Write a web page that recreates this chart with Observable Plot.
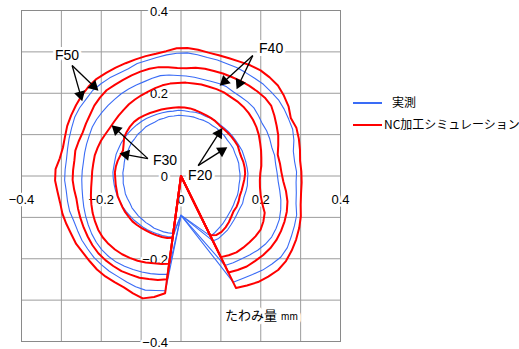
<!DOCTYPE html>
<html><head><meta charset="utf-8">
<script src="https://cdn.jsdelivr.net/npm/d3@7"></script>
<script src="https://cdn.jsdelivr.net/npm/@observablehq/plot@0.6"></script>
<style>
body{margin:0;background:#fff;}
#wrap{position:relative;width:519px;height:349px;overflow:hidden;}
.lg{position:absolute;font-family:"Noto Sans CJK JP","Liberation Sans",sans-serif;font-size:12px;line-height:14px;color:#000;white-space:nowrap;}
.sw{position:absolute;height:2px;width:29px;}
</style></head>
<body><div id="wrap"></div>
<script>
// tool rotation angle (deg) at which each deflection radius was sampled
const angles = [-63,-58,-53,-48,-43,-38,-33,-28,-23,-18,-13,
  -8,-3,2,7,12,17,22,27,32,37,42,
  47,52,57,62,67,72,77,82,87,92,97,
  102,107,112,117,122,127,132,137,142,147,152,
  157,162,167,172,177,182,187,192,197,202,207,
  212,217,222,227,232,237,242,247,252,257,262];

// deflection magnitude (mm) – NC simulation (red) and measurement (blue)
const sim50 = [0.304,0.312,0.321,0.327,0.333,0.334,0.331,0.327,0.322,0.316,0.308,
  0.304,0.303,0.302,0.301,0.305,0.309,0.312,0.309,0.318,0.323,0.327,
  0.326,0.324,0.319,0.313,0.309,0.307,0.306,0.308,0.310,0.309,0.304,
  0.302,0.303,0.304,0.306,0.309,0.312,0.316,0.317,0.316,0.314,0.312,
  0.310,0.306,0.304,0.307,0.315,0.316,0.312,0.310,0.311,0.310,0.309,
  0.310,0.308,0.308,0.309,0.308,0.306,0.305,0.308,0.311,0.300,0.286];
const meas50 = [0.288,0.292,0.298,0.306,0.312,0.318,0.318,0.313,0.309,0.305,0.296,
  0.292,0.289,0.290,0.287,0.288,0.296,0.302,0.303,0.305,0.306,0.304,
  0.303,0.300,0.298,0.297,0.295,0.295,0.294,0.296,0.298,0.297,0.295,
  0.293,0.292,0.293,0.291,0.293,0.297,0.300,0.303,0.302,0.303,0.302,
  0.298,0.295,0.292,0.290,0.291,0.292,0.290,0.291,0.292,0.290,0.291,
  0.293,0.293,0.294,0.293,0.292,0.290,0.290,0.291,0.290,0.284,0.280];
const sim40 = [0.262,0.268,0.274,0.277,0.281,0.284,0.285,0.284,0.282,0.279,0.274,
  0.266,0.257,0.252,0.250,0.248,0.255,0.263,0.269,0.276,0.283,0.283,
  0.280,0.277,0.274,0.271,0.269,0.267,0.266,0.264,0.261,0.261,0.265,
  0.269,0.271,0.272,0.273,0.274,0.276,0.279,0.278,0.276,0.272,0.270,
  0.268,0.270,0.272,0.270,0.271,0.272,0.270,0.268,0.270,0.272,0.274,
  0.276,0.278,0.279,0.278,0.276,0.274,0.270,0.267,0.262,0.258,0.252];
const meas40 = [0.243,0.247,0.251,0.257,0.263,0.268,0.271,0.270,0.268,0.263,0.257,
  0.250,0.244,0.241,0.239,0.240,0.238,0.240,0.241,0.240,0.243,0.246,
  0.245,0.243,0.242,0.244,0.243,0.241,0.240,0.241,0.242,0.243,0.246,
  0.248,0.247,0.246,0.247,0.248,0.249,0.249,0.250,0.251,0.252,0.252,
  0.250,0.249,0.248,0.247,0.248,0.249,0.250,0.252,0.255,0.258,0.261,
  0.264,0.266,0.267,0.266,0.264,0.260,0.256,0.252,0.248,0.244,0.240];
const sim30 = [0.220,0.226,0.231,0.233,0.235,0.237,0.238,0.234,0.228,0.214,0.205,
  0.200,0.198,0.199,0.203,0.206,0.210,0.214,0.219,0.223,0.226,0.228,
  0.229,0.229,0.228,0.229,0.228,0.227,0.227,0.226,0.226,0.225,0.225,
  0.224,0.222,0.220,0.219,0.218,0.217,0.215,0.214,0.213,0.213,0.215,
  0.218,0.220,0.222,0.222,0.223,0.224,0.227,0.231,0.235,0.239,0.242,
  0.245,0.246,0.245,0.243,0.240,0.236,0.232,0.227,0.222,0.218,0.214];
const meas30 = [0.176,0.178,0.176,0.175,0.172,0.170,0.168,0.167,0.168,0.166,0.167,
  0.168,0.167,0.168,0.167,0.166,0.165,0.165,0.163,0.162,0.161,0.160,
  0.159,0.158,0.159,0.158,0.157,0.158,0.158,0.157,0.158,0.159,0.158,
  0.159,0.160,0.161,0.162,0.164,0.165,0.166,0.167,0.168,0.169,0.170,
  0.170,0.171,0.170,0.170,0.171,0.170,0.169,0.168,0.167,0.165,0.164,
  0.162,0.160,0.159,0.157,0.156,0.155,0.153,0.152,0.151,0.150,0.149];
const sim20 = [0.161,0.168,0.169,0.167,0.164,0.160,0.157,0.158,0.157,0.155,0.156,
  0.157,0.159,0.161,0.161,0.160,0.158,0.158,0.160,0.159,0.158,0.157,
  0.156,0.156,0.158,0.159,0.160,0.161,0.163,0.165,0.166,0.166,0.166,
  0.167,0.168,0.169,0.171,0.173,0.175,0.176,0.175,0.173,0.170,0.163,
  0.158,0.160,0.163,0.165,0.166,0.165,0.165,0.165,0.166,0.165,0.165,
  0.165,0.164,0.164,0.162,0.160,0.158,0.157,0.156,0.155,0.154,0.151];
const meas20 = [0.163,0.161,0.158,0.156,0.153,0.151,0.150,0.149,0.148,0.149,0.148,
  0.147,0.148,0.148,0.147,0.148,0.147,0.146,0.147,0.146,0.145,0.146,
  0.145,0.146,0.145,0.146,0.146,0.145,0.146,0.146,0.146,0.147,0.146,
  0.147,0.146,0.147,0.146,0.147,0.148,0.147,0.148,0.147,0.148,0.147,
  0.146,0.147,0.146,0.145,0.146,0.145,0.146,0.145,0.146,0.145,0.144,
  0.145,0.144,0.144,0.143,0.143,0.142,0.143,0.142,0.142,0.141,0.140];

const seriesNames = ["F50 NC","F50 実測","F40 NC","F40 実測","F30 NC","F30 実測","F20 NC","F20 実測"];
const seriesKind  = ["sim","meas","sim","meas","sim","meas","sim","meas"];
const seriesRadii = [sim50, meas50, sim40, meas40, sim30, meas30, sim20, meas20];
// y where each trace starts / ends on the x = 0 line
const startY = [0.0, -0.095, 0.0, -0.095, 0.0, -0.095, 0.0, -0.095];

const gridX = [-0.3,-0.2,-0.1,0,0.1,0.2,0.3];
const gridY = [-0.3,-0.2,-0.1,0,0.1,0.2,0.3];
const xTicks = [-0.4,-0.2,0,0.2,0.4];
const yTicks = [0.4,0.2,0,-0.2,-0.4];

// annotations: force labels and arrows (data units)
const fLabels = [
  {t:"F50", x:-0.286, y:0.291},
  {t:"F40", x:0.226, y:0.308},
  {t:"F30", x:-0.040, y:0.037},
  {t:"F20", x:0.048, y:0.002}
];
const fArrows = [
  {x1:-0.273, y1:0.267, x2:-0.248, y2:0.182},
  {x1:-0.273, y1:0.267, x2:-0.208, y2:0.207},
  {x1:0.180, y1:0.291, x2:0.098, y2:0.219},
  {x1:0.180, y1:0.291, x2:0.140, y2:0.211},
  {x1:-0.083, y1:0.042, x2:-0.173, y2:0.122},
  {x1:-0.083, y1:0.042, x2:-0.153, y2:0.054},
  {x1:0.043, y1:0.025, x2:0.103, y2:0.115},
  {x1:0.043, y1:0.025, x2:0.115, y2:0.069}
];
const axisTitle = {t:"たわみ量", unit:"mm", x:0.241, y:-0.337};

// ---------- build ----------
const W = 519, H = 349, mL = 21, mR = 179, mT = 10, mB = 8;
const kx = (W - mL - mR) / 0.8, ky = (H - mT - mB) / 0.8;

const rows = [];
seriesRadii.forEach((r, k) => {
  const s = seriesNames[k], kind = seriesKind[k];
  rows.push({s, kind, x: 0, y: startY[k]});
  angles.forEach((a, i) => {
    const t = a * Math.PI / 180;
    rows.push({s, kind, x: r[i] * Math.cos(t), y: r[i] * Math.sin(t)});
  });
  rows.push({s, kind, x: 0, y: startY[k]});
});

const heads = fArrows.map(d => {
  const sx = (d.x2 - d.x1) * kx, sy = -(d.y2 - d.y1) * ky;
  const L = Math.hypot(sx, sy), ux = sx / L, uy = sy / L;
  const back = 6;
  return {
    x1: d.x1, y1: d.y1,
    x: d.x2 - ux * back / kx,
    y: d.y2 + uy * back / ky,
    rot: Math.atan2(sx, -sy) * 180 / Math.PI
  };
});

const fmt = v => v === 0 ? "0" : (v < 0 ? "\u2212" : "") + Math.abs(v).toFixed(1);

const plot = Plot.plot({
  width: W, height: H,
  marginLeft: mL, marginRight: mR, marginTop: mT, marginBottom: mB,
  x: {domain: [-0.4, 0.4], axis: null},
  y: {domain: [-0.4, 0.4], axis: null},
  style: {fontFamily: "'Liberation Sans', Arial, sans-serif", fontSize: "13px", background: "#fff", overflow: "visible"},
  marks: [
    Plot.ruleX(gridX, {x: d => d, stroke: "#9c9c9c", strokeWidth: 1}),
    Plot.ruleY(gridY, {y: d => d, stroke: "#9c9c9c", strokeWidth: 1}),
    Plot.frame({stroke: "#8a8a8a", strokeWidth: 1}),
    Plot.text(yTicks, {x: () => 0, y: d => d, text: fmt, textAnchor: "end", dx: -13, dy: 1,
      fill: "#000", stroke: "#fff", strokeWidth: 5, fontSize: 13}),
    Plot.text(xTicks, {x: d => d, y: () => 0, text: fmt, dy: 24,
      fill: "#000", stroke: "#fff", strokeWidth: 5, fontSize: 13}),
    Plot.line(rows.filter(d => d.kind === "meas"), {x: "x", y: "y", z: "s", stroke: "#3a6cf6", strokeWidth: 1.1}),
    Plot.line(rows.filter(d => d.kind === "sim"), {x: "x", y: "y", z: "s", stroke: "#ff0000", strokeWidth: 2}),
    Plot.link(heads, {x1: "x1", y1: "y1", x2: "x", y2: "y", stroke: "#000", strokeWidth: 1.3}),
    Plot.dot(heads, {x: "x", y: "y", symbol: "triangle", r: 4.2, rotate: "rot", fill: "#000", stroke: "none"}),
    Plot.text(fLabels, {x: "x", y: "y", text: "t", fill: "#000", stroke: "#fff", strokeWidth: 6, fontSize: 14}),
    Plot.text([axisTitle], {x: "x", y: "y", text: "t", textAnchor: "end", fill: "#000", stroke: "#fff", strokeWidth: 7,
      fontSize: 13, fontFamily: "'Noto Sans CJK JP', sans-serif"}),
    Plot.text([axisTitle], {x: "x", y: "y", text: "unit", textAnchor: "start", dx: 4, dy: 1, fill: "#000", stroke: "#fff", strokeWidth: 7,
      fontSize: 10})
  ]
});

const wrap = document.getElementById("wrap");
wrap.appendChild(plot);

// legend
const legendItems = [
  {label: "実測", color: "#3a6cf6", top: 103, textLeft: 392},
  {label: "NC加工シミュレーション", color: "#ff0000", top: 125, textLeft: 384}
];
legendItems.forEach(it => {
  const sw = document.createElement("div");
  sw.className = "sw";
  sw.style.left = "353px"; sw.style.top = (it.top - 1) + "px"; sw.style.background = it.color;
  wrap.appendChild(sw);
  const tx = document.createElement("div");
  tx.className = "lg";
  tx.style.left = it.textLeft + "px"; tx.style.top = (it.top - 8) + "px";
  tx.textContent = it.label;
  wrap.appendChild(tx);
});
</script>
</body></html>
